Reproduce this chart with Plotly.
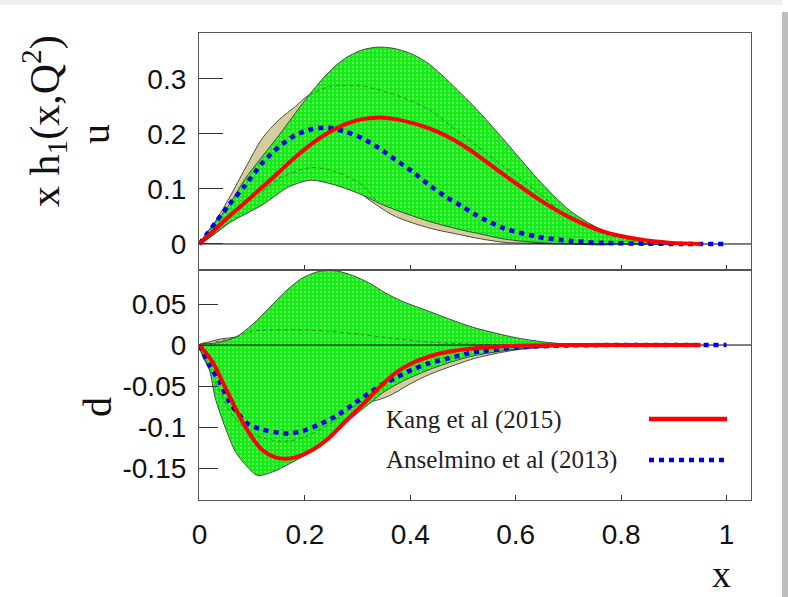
import plotly.graph_objects as go
from plotly.subplots import make_subplots

# ---------------- data: u quark (top panel) ----------------
u_green_upper_x = [0.0, 0.056, 0.087, 0.151, 0.208, 0.246, 0.277, 0.309, 0.341, 0.372, 0.404, 0.436, 0.467, 0.499, 0.524, 0.578, 0.641, 0.705, 0.768, 0.831, 0.895, 0.951]
u_green_upper_y = [0.0, 0.071, 0.119, 0.198, 0.271, 0.313, 0.338, 0.353, 0.358, 0.355, 0.345, 0.327, 0.301, 0.271, 0.247, 0.189, 0.119, 0.059, 0.024, 0.009, 0.002, 0.0]
u_green_lower_x = [0.0, 0.056, 0.119, 0.170, 0.211, 0.258, 0.309, 0.341, 0.372, 0.436, 0.499, 0.524, 0.578, 0.65, 0.75]
u_green_lower_y = [0.0, 0.038, 0.071, 0.104, 0.116, 0.107, 0.089, 0.074, 0.062, 0.041, 0.025, 0.020, 0.009, 0.002, 0.0]

u_tan_upper_x = [0.0, 0.030, 0.056, 0.087, 0.119, 0.151, 0.182, 0.208, 0.30, 0.40, 0.50, 0.60, 0.70, 0.78]
u_tan_upper_y = [0.0, 0.041, 0.083, 0.138, 0.192, 0.226, 0.250, 0.271, 0.30, 0.30, 0.22, 0.12, 0.03, 0.0]
u_tan_lower_x = [0.0, 0.10, 0.20, 0.28, 0.322, 0.372, 0.436, 0.499, 0.524, 0.578, 0.641, 0.70]
u_tan_lower_y = [0.0, 0.07, 0.13, 0.11, 0.080, 0.050, 0.029, 0.016, 0.011, 0.003, 0.001, 0.0]

u_inner_upper_x = [0.208, 0.246, 0.277, 0.309, 0.341, 0.372, 0.404, 0.436, 0.467, 0.499, 0.524, 0.578, 0.641, 0.698, 0.768, 0.831, 0.90]
u_inner_upper_y = [0.271, 0.286, 0.288, 0.287, 0.280, 0.271, 0.259, 0.244, 0.222, 0.198, 0.180, 0.140, 0.095, 0.050, 0.018, 0.006, 0.0]
u_inner_lower_x = [0.12, 0.151, 0.211, 0.258, 0.309, 0.334]
u_inner_lower_y = [0.095, 0.119, 0.139, 0.1315, 0.107, 0.080]

u_kang_x = [0.0, 0.056, 0.087, 0.119, 0.151, 0.182, 0.214, 0.246, 0.277, 0.309, 0.341, 0.372, 0.436, 0.499, 0.578, 0.641, 0.705, 0.768, 0.831, 0.895, 0.951]
u_kang_y = [0.0, 0.050, 0.076, 0.103, 0.131, 0.158, 0.183, 0.203, 0.218, 0.227, 0.230, 0.227, 0.210, 0.180, 0.1255, 0.083, 0.047, 0.022, 0.009, 0.002, 0.0]

u_ans_x = [0.0, 0.056, 0.087, 0.119, 0.151, 0.182, 0.214, 0.246, 0.277, 0.309, 0.341, 0.372, 0.404, 0.436, 0.467, 0.499, 0.524, 0.578, 0.641, 0.705, 0.768, 0.85, 0.92, 1.0]
u_ans_y = [0.0, 0.071, 0.107, 0.147, 0.177, 0.198, 0.209, 0.2115, 0.204, 0.192, 0.174, 0.153, 0.1315, 0.107, 0.086, 0.068, 0.053, 0.0285, 0.0133, 0.0055, 0.002, 0.0005, 0.0, 0.0]

# ---------------- data: d quark (bottom panel) ----------------
d_green_upper_x = [0.0, 0.030, 0.068, 0.100, 0.132, 0.163, 0.195, 0.227, 0.258, 0.290, 0.322, 0.353, 0.385, 0.436, 0.486, 0.524, 0.60, 0.65, 0.70, 0.75]
d_green_upper_y = [0.0, 0.0024, 0.0094, 0.0248, 0.0451, 0.0654, 0.0817, 0.0898, 0.0906, 0.085, 0.0756, 0.0634, 0.0533, 0.041, 0.0289, 0.0207, 0.009, 0.004, 0.001, 0.0]
d_green_lower_x = [0.0, 0.018, 0.030, 0.049, 0.068, 0.087, 0.110, 0.138, 0.170, 0.201, 0.233, 0.265, 0.296, 0.328, 0.347, 0.385, 0.436, 0.486, 0.524, 0.60, 0.65, 0.72]
d_green_lower_y = [0.0, -0.028, -0.065, -0.101, -0.130, -0.146, -0.159, -0.155, -0.145, -0.134, -0.1195, -0.101, -0.085, -0.0687, -0.0585, -0.0443, -0.030, -0.019, -0.0126, -0.005, -0.002, 0.0]

d_tan_upper_x = [0.0, 0.018, 0.043, 0.068, 0.15, 0.30, 0.50, 0.60]
d_tan_upper_y = [0.0, 0.0037, 0.0077, 0.0098, 0.03, 0.03, 0.01, 0.0]
d_tan_lower_x = [0.0, 0.10, 0.20, 0.30, 0.328, 0.360, 0.398, 0.436, 0.486, 0.524, 0.60, 0.70, 0.75]
d_tan_lower_y = [0.0, -0.10, -0.10, -0.07, -0.0687, -0.062, -0.048, -0.036, -0.024, -0.016, -0.006, -0.001, 0.0]

d_inner_upper_x = [0.03, 0.068, 0.10, 0.182, 0.246, 0.309, 0.372, 0.436, 0.50, 0.58]
d_inner_upper_y = [0.004, 0.0094, 0.0167, 0.0187, 0.0167, 0.0126, 0.0077, 0.0037, 0.0015, 0.0]
d_inner_lower_x = [0.03, 0.062, 0.10, 0.138, 0.17, 0.20, 0.25, 0.30, 0.35]
d_inner_lower_y = [-0.045, -0.085, -0.108, -0.116, -0.117, -0.112, -0.095, -0.072, -0.053]

d_kang_x = [0.0, 0.024, 0.043, 0.062, 0.081, 0.100, 0.119, 0.144, 0.163, 0.182, 0.214, 0.246, 0.277, 0.309, 0.341, 0.372, 0.404, 0.436, 0.474, 0.524, 0.60, 0.70, 0.80, 0.951]
d_kang_y = [0.0, -0.020, -0.044, -0.069, -0.093, -0.113, -0.128, -0.137, -0.1386, -0.137, -0.128, -0.113, -0.093, -0.073, -0.052, -0.034, -0.022, -0.014, -0.008, -0.004, -0.001, 0.0, 0.0, 0.0]

d_ans_x = [0.0, 0.018, 0.037, 0.056, 0.075, 0.094, 0.119, 0.151, 0.170, 0.195, 0.227, 0.258, 0.290, 0.322, 0.347, 0.372, 0.404, 0.436, 0.474, 0.512, 0.524, 0.60, 0.70, 0.80, 1.0]
d_ans_y = [0.0, -0.024, -0.044, -0.069, -0.085, -0.097, -0.103, -0.107, -0.108, -0.105, -0.097, -0.087, -0.073, -0.0585, -0.048, -0.040, -0.030, -0.022, -0.016, -0.010, -0.0085, -0.003, -0.0005, 0.0, 0.0]

# ---------------- ticks / labels ----------------
x_tickvals = [0, 0.2, 0.4, 0.6, 0.8, 1]
x_ticktext = ["0", "0.2", "0.4", "0.6", "0.8", "1"]
u_tickvals = [0, 0.1, 0.2, 0.3]
u_ticktext = ["0", "0.1", "0.2", "0.3"]
d_tickvals = [-0.15, -0.1, -0.05, 0, 0.05]
d_ticktext = ["-0.15", "-0.1", "-0.05", "0", "0.05"]
legend_names = ["Kang et al (2015)", "Anselmino et al (2013)"]

X_RANGE = [-0.001, 1.0465]
U_RANGE = [-0.0473, 0.3836]
D_RANGE = [-0.189, 0.0915]

GREEN = "#16ea16"
TAN = "#d4ce9e"
OUTLINE = "#3a3a3a"
RED = "#ff0000"
BLUE = "#0000e6"
SERIF = "Liberation Serif"
SANS = "Liberation Sans"

fig = make_subplots(rows=2, cols=1, shared_xaxes=True, vertical_spacing=0,
                    row_heights=[237, 230])


def band(xu, yu, xl, yl, color, row, pattern=False):
    xs = list(xu) + list(reversed(xl))
    ys = list(yu) + list(reversed(yl))
    kw = {}
    if pattern:
        kw["fillpattern"] = dict(shape=".", bgcolor=color, fgcolor="#9af59a",
                                 size=4, solidity=0.25)
    fig.add_trace(go.Scatter(x=xs, y=ys, mode="lines", fill="toself",
                             fillcolor=color,
                             line=dict(color=OUTLINE, width=0.9, shape="spline",
                                       smoothing=0.8),
                             hoverinfo="skip", showlegend=False, **kw),
                  row=row, col=1)


def dashed(x, y, row):
    fig.add_trace(go.Scatter(x=x, y=y, mode="lines",
                             line=dict(color="#2f6e2f", width=0.8, dash="4px,3px",
                                       shape="spline", smoothing=0.8),
                             hoverinfo="skip", showlegend=False), row=row, col=1)


def zero_line(row):
    fig.add_trace(go.Scatter(x=X_RANGE, y=[0, 0], mode="lines",
                             line=dict(color="black", width=1),
                             hoverinfo="skip", showlegend=False), row=row, col=1)


def curves(kx, ky, ax, ay, row):
    fig.add_trace(go.Scatter(x=ax, y=ay, mode="lines", name=legend_names[1],
                             line=dict(color=BLUE, width=4.5, dash="5px,5px",
                                       shape="spline", smoothing=0.8),
                             showlegend=False), row=row, col=1)
    fig.add_trace(go.Scatter(x=kx, y=ky, mode="lines", name=legend_names[0],
                             line=dict(color=RED, width=4, shape="spline",
                                       smoothing=0.8),
                             showlegend=False), row=row, col=1)


# top panel (u)
band(u_tan_upper_x, u_tan_upper_y, u_tan_lower_x, u_tan_lower_y, TAN, 1)
band(u_green_upper_x, u_green_upper_y, u_green_lower_x, u_green_lower_y, GREEN, 1, True)
dashed(u_inner_upper_x, u_inner_upper_y, 1)
dashed(u_inner_lower_x, u_inner_lower_y, 1)
zero_line(1)
curves(u_kang_x, u_kang_y, u_ans_x, u_ans_y, 1)

# bottom panel (d)
band(d_tan_upper_x, d_tan_upper_y, d_tan_lower_x, d_tan_lower_y, TAN, 2)
band(d_green_upper_x, d_green_upper_y, d_green_lower_x, d_green_lower_y, GREEN, 2, True)
dashed(d_inner_upper_x, d_inner_upper_y, 2)
dashed(d_inner_lower_x, d_inner_lower_y, 2)
zero_line(2)
curves(d_kang_x, d_kang_y, d_ans_x, d_ans_y, 2)

axis_common = dict(showline=True, mirror=True, linecolor="#555555", linewidth=1.2,
                   showgrid=False, zeroline=False, ticks="inside",
                   tickcolor="#333333", tickwidth=1.2)

fig.update_xaxes(range=X_RANGE, tickvals=x_tickvals, ticktext=x_ticktext,
                 ticklen=5, **axis_common)
fig.update_xaxes(showticklabels=False, row=1, col=1)
fig.update_xaxes(tickfont=dict(family=SANS, size=28, color="#111111"),
                 ticklabelstandoff=9, row=2, col=1)

fig.update_yaxes(range=U_RANGE, tickvals=u_tickvals, ticktext=u_ticktext,
                 ticklen=24, tickfont=dict(family=SANS, size=28, color="#111111"),
                 ticklabelstandoff=6, row=1, col=1, **axis_common)
fig.update_yaxes(range=D_RANGE, tickvals=d_tickvals, ticktext=d_ticktext,
                 ticklen=19, tickfont=dict(family=SANS, size=28, color="#111111"),
                 ticklabelstandoff=6, row=2, col=1, **axis_common)

L, R, T, B = 199, 37, 33, 97
W, H = 788, 597
pw, ph = W - L - R, H - T - B


def px(x):
    return (x - L) / pw


def py(y):
    return (H - B - y) / ph


ann = [
    dict(text="x h<sub>1</sub>(x,Q<sup>2</sup>)", x=px(44), y=py(121), textangle=-90,
         font=dict(family=SERIF, size=42, color="#111111")),
    dict(text="u", x=px(95), y=py(134), textangle=-90,
         font=dict(family=SERIF, size=40, color="#111111")),
    dict(text="d", x=px(97), y=py(407), textangle=-90,
         font=dict(family=SERIF, size=40, color="#111111")),
    dict(text="x", x=px(721), y=py(574),
         font=dict(family=SERIF, size=38, color="#111111")),
    dict(text=legend_names[0], x=px(384), y=py(420), xanchor="left",
         font=dict(family=SERIF, size=25, color="#222222")),
    dict(text=legend_names[1], x=px(384), y=py(460), xanchor="left",
         font=dict(family=SERIF, size=25, color="#222222")),
]
annotations = []
for a in ann:
    base = dict(xref="paper", yref="paper", showarrow=False, yanchor="middle")
    base.setdefault("xanchor", "center")
    base.update(a)
    annotations.append(base)

shapes = [
    dict(type="line", xref="paper", yref="paper", x0=px(649), x1=px(727),
         y0=py(419), y1=py(419), line=dict(color=RED, width=4.5)),
    dict(type="line", xref="paper", yref="paper", x0=px(649), x1=px(727),
         y0=py(460), y1=py(460), line=dict(color=BLUE, width=4.5, dash="5px,5px")),
    dict(type="rect", xref="paper", yref="paper", x0=px(782), x1=px(790),
         y0=py(12), y1=py(598), fillcolor="#bdbdbd", line=dict(width=0)),
    dict(type="rect", xref="paper", yref="paper", x0=px(-1), x1=px(782),
         y0=py(0), y1=py(5), fillcolor="#efefef", line=dict(width=0)),
]

fig.update_layout(width=W, height=H, margin=dict(l=L, r=R, t=T, b=B),
                  paper_bgcolor="white", plot_bgcolor="white",
                  showlegend=False, annotations=annotations, shapes=shapes)

fig.write_html("out.html", config={"displayModeBar": False},
               post_script="document.body.style.margin='0px';"
                           "document.body.style.overflow='hidden';")
